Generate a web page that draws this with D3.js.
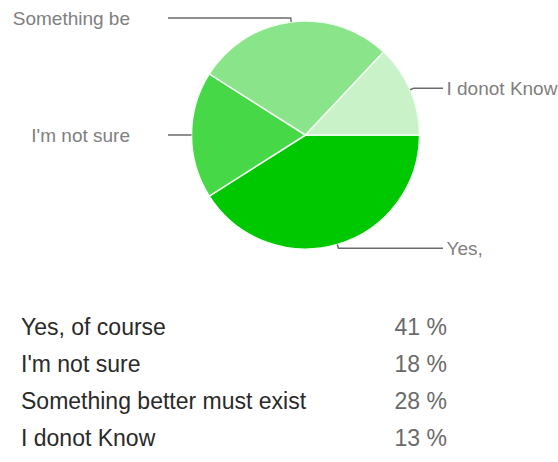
<!DOCTYPE html>
<html>
<head>
<meta charset="utf-8">
<script src="https://cdn.jsdelivr.net/npm/d3@7"></script>
<style>
  html, body { margin: 0; padding: 0; background: #fff; }
  svg { display: block; font-family: "Liberation Sans", Arial, sans-serif; }
</style>
</head>
<body>
<svg id="chart" width="558" height="462"></svg>
<script>
// ---- data ----
const categories = ["Yes, of course", "I'm not sure", "Something better must exist", "I donot Know"];
const pieLabels = ["Yes,", "I'm not sure", "Something be", "I donot Know"];
const values = [41, 18, 28, 13];
const colors = ["#00c800", "#46d846", "#8ae48a", "#c9f2c9"];

// ---- layout ----
const W = 558, H = 462;
const cx = 305.5, cy = 135, R = 114;
const svg = d3.select("#chart");

const pie = d3.pie().sort(null).value(d => d.v)
  .startAngle(Math.PI / 2).endAngle(Math.PI / 2 + 2 * Math.PI);
const arcs = pie(values.map((v, i) => ({ v, i })));
const arc = d3.arc().innerRadius(0).outerRadius(R);
const color = d3.scaleOrdinal().domain(d3.range(values.length)).range(colors);

const g = svg.append("g").attr("transform", `translate(${cx},${cy})`);
g.selectAll("path.slice").data(arcs).join("path")
  .attr("class", "slice")
  .attr("d", arc)
  .attr("fill", d => color(d.data.i))
  .attr("stroke", "#f4fff4")
  .attr("stroke-width", 1.5)
  .attr("stroke-linejoin", "round");

// leader lines + labels
const lineEndX = 137.5;
arcs.forEach(d => {
  const a = (d.startAngle + d.endAngle) / 2;
  const sx = Math.sin(a), sy = -Math.cos(a);
  const p0 = [R * sx, R * sy];
  const p1 = [(R + 4) * sx, (R + 4) * sy];
  const right = sx > 0.0001;
  const ex = right ? lineEndX : -lineEndX;
  const p2 = [ex, p1[1]];
  g.append("path")
    .attr("d", d3.line()([p0, p1, p2]))
    .attr("fill", "none")
    .attr("stroke", "#6a6a6a")
    .attr("stroke-width", 1.5);
  const t = g.append("text")
    .attr("y", p2[1] + 6.8)
    .attr("font-size", 19)
    .attr("fill", "#808080")
    .text(pieLabels[d.data.i]);
  if (right) t.attr("x", ex + 3.5).attr("text-anchor", "start");
  else t.attr("x", ex - 38).attr("text-anchor", "end");
});

// ---- table ----
const rowY = d3.scalePoint().domain(d3.range(categories.length)).range([335, 446]);
const table = svg.append("g");
categories.forEach((c, i) => {
  table.append("text")
    .attr("x", 21)
    .attr("y", rowY(i))
    .attr("font-size", 23)
    .attr("fill", "#2a2a2a")
    .text(c);
  table.append("text")
    .attr("x", 447)
    .attr("y", rowY(i))
    .attr("font-size", 23)
    .attr("text-anchor", "end")
    .attr("fill", "#6a6a6a")
    .text(values[i] + " %");
});
</script>
</body>
</html>
